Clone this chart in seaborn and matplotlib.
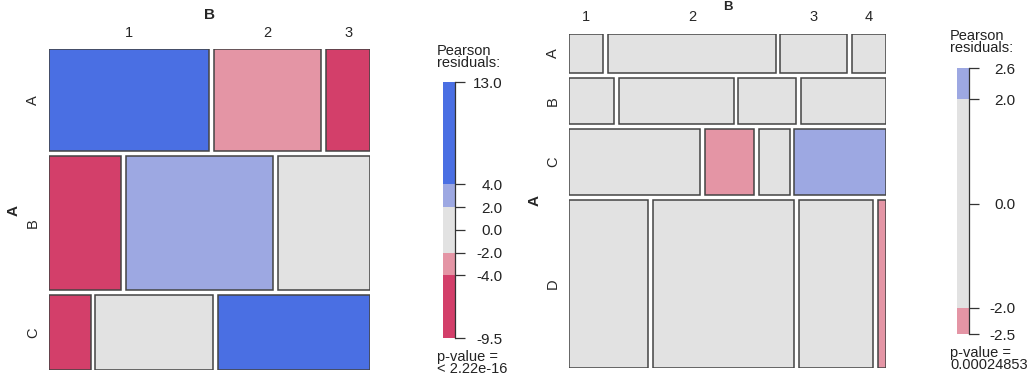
import numpy as np
import matplotlib
matplotlib.use("Agg")
import matplotlib.pyplot as plt
import matplotlib.transforms as mtransforms
import seaborn as sns

# Tabla izquierda: A (filas A, B, C) x B (columnas 1, 2, 3)
left_rows = ["A", "B", "C"]
left_cols = ["1", "2", "3"]
left_counts = [[168, 113, 46],
               [100, 205, 128],
               [32, 91, 117]]
left_resid = [[13.0, -3.0, -7.0],
              [-9.5, 3.0, 1.0],
              [-6.0, 0.5, 11.0]]
left_ticks = [13.0, 4.0, 2.0, 0.0, -2.0, -4.0, -9.5]
left_pvalue = "< 2.22e-16"

# Tabla derecha: A (filas A, B, C, D) x B (columnas 1, 2, 3, 4)
right_rows = ["A", "B", "C", "D"]
right_cols = ["1", "2", "3", "4"]
right_counts = [[14, 68, 27, 14],
                [21, 54, 27, 40],
                [90, 34, 21, 63],
                [138, 246, 129, 14]]
right_resid = [[0.3, 0.5, -0.4, -0.6],
               [-0.5, -0.8, 0.4, 1.1],
               [1.2, -2.3, -0.3, 2.6],
               [-0.4, 0.6, 0.2, -2.5]]
right_ticks = [2.6, 2.0, 0.0, -2.0, -2.5]
right_pvalue = "0.00024853"

# Colores (escala Blue-Red de vcd)
pal = sns.color_palette(["#4A6FE3", "#9DA8E2", "#E2E2E2", "#E495A5", "#D33F6A"])
EDGE = "#444444"
W, H = 1034, 383

sns.set_style("white")
plt.rcParams["font.family"] = ["Liberation Sans", "DejaVu Sans"]
plt.rcParams["font.size"] = 10


def shade(r):
    if r > 4:
        return pal[0]
    if r > 2:
        return pal[1]
    if r < -4:
        return pal[4]
    if r < -2:
        return pal[3]
    return pal[2]


def px_rect(x0, y0, x1, y1):
    return [x0 / W, 1 - y1 / H, (x1 - x0) / W, (y1 - y0) / H]


def mosaic(fig, rect, counts, resid, rows, cols, gap=0.015, col_lab_px=16):
    ax = fig.add_axes(rect)
    counts = np.array(counts, dtype=float)
    n_r, n_c = counts.shape
    row_p = counts.sum(axis=1) / counts.sum()
    avail_h = 1 - gap * (n_r - 1)
    avail_w = 1 - gap * (n_c - 1)
    top = 1.0
    first_centers = []
    row_centers = []
    for i in range(n_r):
        h = row_p[i] * avail_h
        bottom = top - h
        col_p = counts[i] / counts[i].sum()
        left = 0.0
        for j in range(n_c):
            w = col_p[j] * avail_w
            ax.bar(left, h, width=w, bottom=bottom, align="edge",
                   color=shade(resid[i][j]), edgecolor=EDGE, linewidth=1.1)
            if i == 0:
                first_centers.append(left + w / 2)
            left += w + gap
        row_centers.append(bottom + h / 2)
        top = bottom - gap
    ax.set_xlim(0, 1)
    ax.set_ylim(0, 1)
    ax.axis("off")

    # etiquetas de columnas (sobre la primera fila)
    tr = mtransforms.offset_copy(ax.get_xaxis_transform(), fig=fig, x=0,
                                 y=col_lab_px * 72 / 100, units="points")
    for c, lab in zip(first_centers, cols):
        ax.text(c, 1.0, lab, transform=tr, ha="center", va="center", fontsize=10.5)
    # etiquetas de filas
    tr2 = mtransforms.offset_copy(ax.get_yaxis_transform(), fig=fig,
                                  x=-16 * 72 / 100, y=0, units="points")
    for c, lab in zip(row_centers, rows):
        ax.text(0.0, c, lab, transform=tr2, ha="center", va="center",
                rotation=90, fontsize=10.5)
    return ax


def legend_bar(fig, rect, ticks, pad_px):
    ax = fig.add_axes(rect)
    lo, hi = min(ticks), max(ticks)
    edges = [lo, -4, -2, 2, 4, hi]
    cols = [pal[4], pal[3], pal[2], pal[1], pal[0]]
    for a, b, c in zip(edges[:-1], edges[1:], cols):
        a2, b2 = max(a, lo), min(b, hi)
        if b2 > a2:
            ax.axhspan(a2, b2, color=c, lw=0)
    ax.set_ylim(lo, hi)
    ax.set_xlim(0, 1)
    ax.set_xticks([])
    for s in ["left", "top", "bottom"]:
        ax.spines[s].set_visible(False)
    ax.spines["right"].set_color("#333333")
    ax.spines["right"].set_linewidth(0.9)
    ax.yaxis.tick_right()
    ax.set_yticks(ticks)
    ax.set_yticklabels([f"{t:.1f}" for t in ticks])
    ax.tick_params(axis="y", direction="out", length=7, width=0.9,
                   color="#333333", pad=pad_px * 72 / 100, labelsize=11)
    for lab in ax.get_yticklabels():
        lab.set_horizontalalignment("right")
        lab.set_color("#222222")
    return ax


fig = plt.figure(figsize=(W / 100, H / 100), dpi=100)

# Panel izquierdo
mosaic(fig, px_rect(49, 49, 370, 370), left_counts, left_resid, left_rows,
       left_cols, col_lab_px=16)
fig.text(209.5 / W, 1 - 15 / H, "B", ha="center", va="center",
         fontsize=11, fontweight="bold")
fig.text(14 / W, 1 - 210 / H, "A", ha="center", va="center", rotation=90,
         fontsize=11, fontweight="bold")
legend_bar(fig, px_rect(443, 82, 455, 338), left_ticks, 38)
fig.text(437 / W, 1 - 44 / H, "Pearson\nresiduals:", ha="left", va="top",
         fontsize=10.5, linespacing=0.85, color="#222222")
fig.text(437 / W, 1 - 350 / H, "p-value =\n" + left_pvalue, ha="left", va="top",
         fontsize=10.5, linespacing=0.85, color="#222222")

# Panel derecho
mosaic(fig, px_rect(569, 34, 886, 368), right_counts, right_resid, right_rows,
       right_cols, col_lab_px=17)
fig.text(727.5 / W, 1 - 1 / H, "B", ha="center", va="top",
         fontsize=9.5, fontweight="bold")
fig.text(535 / W, 1 - 201 / H, "A", ha="center", va="center", rotation=90,
         fontsize=11, fontweight="bold")
legend_bar(fig, px_rect(957, 68, 969, 334), right_ticks, 37)
fig.text(950 / W, 1 - 29 / H, "Pearson\nresiduals:", ha="left", va="top",
         fontsize=10.5, linespacing=0.85, color="#222222")
fig.text(950 / W, 1 - 346 / H, "p-value =\n" + right_pvalue, ha="left", va="top",
         fontsize=10.5, linespacing=0.85, color="#222222")

fig.savefig("out.png", dpi=100)
